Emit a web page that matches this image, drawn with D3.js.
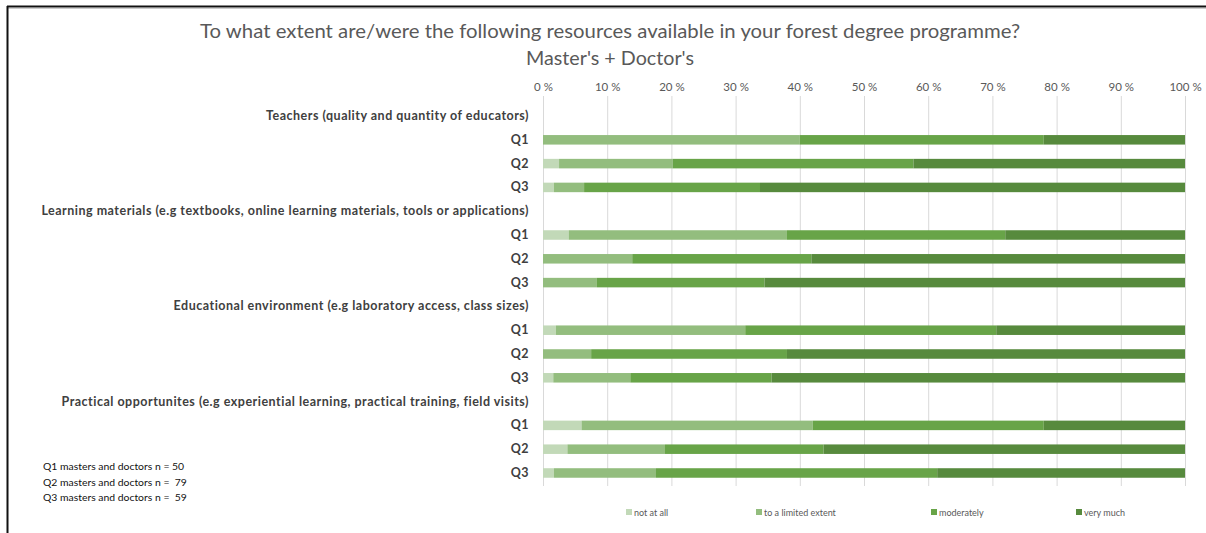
<!DOCTYPE html>
<html>
<head>
<meta charset="utf-8">
<script src="https://cdn.jsdelivr.net/npm/d3@7"></script>
<style>
  html, body { margin: 0; padding: 0; background: #fff; }
  svg { display: block; font-family: Lato, "Open Sans", sans-serif; }
</style>
</head>
<body>
<svg id="chart" width="1206" height="533"></svg>
<script>
// ---- data ----
const rowLabels = [
  "Teachers (quality and quantity of educators)", "Q1", "Q2", "Q3",
  "Learning materials (e.g textbooks, online learning materials, tools or applications)", "Q1", "Q2", "Q3",
  "Educational environment (e.g laboratory access, class sizes)", "Q1", "Q2", "Q3",
  "Practical opportunites (e.g experiential learning, practical training, field visits)", "Q1", "Q2", "Q3"
];
const seriesNames = ["not at all", "to a limited extent", "moderately", "very much"];
const notAtAll   = [null, 0,  2.5, 1.7, null, 4,  0,    0,    null, 2,    0,    1.6,  null, 6,  3.8,  1.7];
const limited    = [null, 40, 17.7, 4.7, null, 34, 13.9, 8.4,  null, 29.5, 7.5,  12.0, null, 36, 15.2, 15.9];
const moderately = [null, 38, 37.5, 27.4, null, 34, 27.9, 26.1, null, 39.1, 30.5, 22.0, null, 36, 24.7, 43.8];
const veryMuch   = [null, 22, 42.3, 66.2, null, 28, 58.2, 65.5, null, 29.4, 62.0, 64.4, null, 22, 56.3, 38.6];
const xTicks = [0, 10, 20, 30, 40, 50, 60, 70, 80, 90, 100];
const titleText = "To what extent are/were the following resources available in your forest degree programme?";
const subtitleText = "Master's + Doctor's";
const notes = ["Q1 masters and doctors n = 50", "Q2 masters and doctors n =  79", "Q3 masters and doctors n =  59"];
const colors = ["#c2d9b8", "#93bd7e", "#68a448", "#578a3d"];

// ---- build ----
const svg = d3.select("#chart");
const seriesArrays = [notAtAll, limited, moderately, veryMuch];
const rows = rowLabels.map((label, i) => {
  const r = { idx: i, label: label, header: notAtAll[i] === null };
  seriesNames.forEach((s, k) => r[s] = seriesArrays[k][i] === null ? 0 : seriesArrays[k][i]);
  return r;
});

const x = d3.scaleLinear().domain([0, 100]).range([543, 1185]);
const y = d3.scaleBand().domain(rows.map(r => r.idx)).range([106.5, 482.5])
  .paddingInner(0.6).paddingOuter(0.2);
const color = d3.scaleOrdinal().domain(seriesNames).range(colors);

// frame
svg.append("line").attr("x1", 7).attr("x2", 1206).attr("y1", 6.5).attr("y2", 6.5)
  .attr("stroke", "#111").attr("stroke-width", 2);
svg.append("line").attr("x1", 7).attr("x2", 1206).attr("y1", 8.5).attr("y2", 8.5)
  .attr("stroke", "#ccc").attr("stroke-width", 1);
svg.append("line").attr("x1", 7.5).attr("x2", 7.5).attr("y1", 6).attr("y2", 533)
  .attr("stroke", "#111").attr("stroke-width", 2);

// titles
svg.append("text").attr("x", 610).attr("y", 37.5).attr("text-anchor", "middle")
  .attr("font-size", 19).attr("fill", "#595959")
  .attr("textLength", 820).attr("lengthAdjust", "spacingAndGlyphs").text(titleText);
svg.append("text").attr("x", 610).attr("y", 64.5).attr("text-anchor", "middle")
  .attr("font-size", 19).attr("fill", "#595959")
  .attr("textLength", 168).attr("lengthAdjust", "spacingAndGlyphs").text(subtitleText);

// gridlines
svg.append("g").selectAll("line").data(xTicks).join("line")
  .attr("x1", d => x(d) + 0.5).attr("x2", d => x(d) + 0.5)
  .attr("y1", 96).attr("y2", 486)
  .attr("stroke", "#d9d9d9").attr("stroke-width", 1);

// top axis
const xAxis = d3.axisTop(x).tickValues(xTicks).tickSize(0).tickPadding(0)
  .tickFormat(d => d + " %");
const ax = svg.append("g").attr("transform", "translate(0,91)").call(xAxis);
ax.select(".domain").remove();
ax.selectAll("text").attr("font-size", 11.5).attr("fill", "#595959")
  .attr("font-family", "Lato, sans-serif");

// bars
const stack = d3.stack().keys(seriesNames);
const stacked = stack(rows);
svg.append("g").selectAll("g").data(stacked).join("g")
  .attr("fill", d => color(d.key))
  .selectAll("rect").data(d => d.filter(p => !p.data.header)).join("rect")
  .attr("x", p => x(p[0]))
  .attr("width", p => x(p[1]) - x(p[0]))
  .attr("y", p => y(p.data.idx))
  .attr("height", y.bandwidth());

// category labels
const yAxis = d3.axisLeft(y).tickSize(0).tickPadding(0).tickFormat(i => rowLabels[i]);
const ay = svg.append("g").attr("transform", "translate(529,0)").call(yAxis);
ay.select(".domain").remove();
ay.selectAll("text").attr("font-size", 12.5).attr("font-weight", "bold")
  .attr("letter-spacing", 0.5)
  .attr("fill", "#404040").attr("font-family", "Lato, sans-serif");

// notes
svg.append("g").selectAll("text").data(notes).join("text")
  .attr("x", 43).attr("y", (d, i) => 470 + i * 15.5)
  .style("white-space", "pre")
  .attr("font-size", 10.4).attr("fill", "#111").text(d => d);

// legend
const legendX = [626, 756, 931, 1076];
const lg = svg.append("g").selectAll("g").data(seriesNames).join("g")
  .attr("transform", (d, i) => `translate(${legendX[i]},512)`);
lg.append("rect").attr("x", 0).attr("y", -3).attr("width", 6).attr("height", 6)
  .attr("fill", d => color(d));
lg.append("text").attr("x", 8).attr("y", 3.5).attr("font-size", 9)
  .attr("fill", "#595959").text(d => d);
</script>
</body>
</html>
